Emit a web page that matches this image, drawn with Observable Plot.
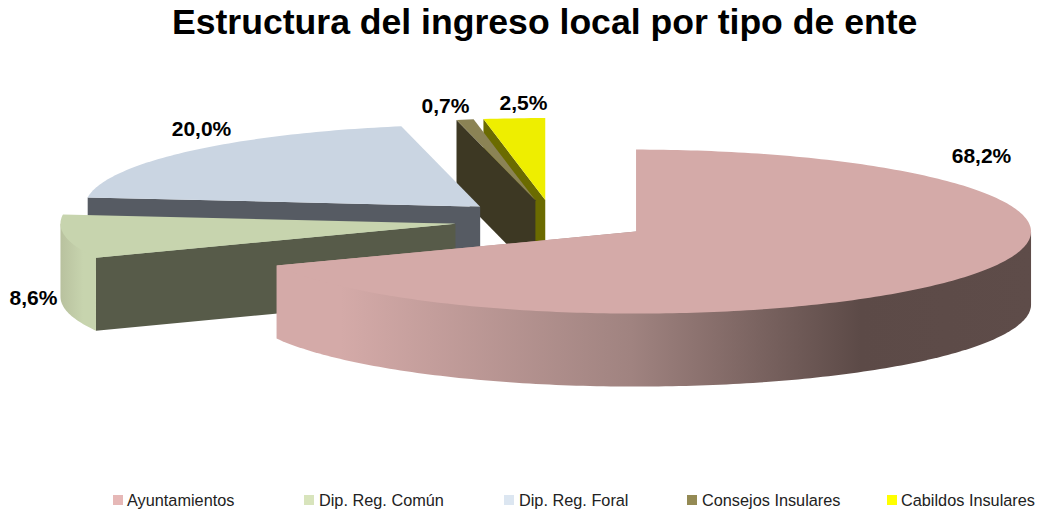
<!DOCTYPE html>
<html>
<head>
<meta charset="utf-8">
<script src="https://cdn.jsdelivr.net/npm/d3@7"></script>
<script src="https://cdn.jsdelivr.net/npm/@observablehq/plot@0.6"></script>
<style>
  html, body { margin: 0; padding: 0; background: #fff; }
  body { width: 1040px; height: 511px; position: relative; overflow: hidden; font-family: "Liberation Sans", Arial, sans-serif; }
  #title { position: absolute; left: 172px; top: 0; margin: 0; height: 60px; line-height: 44px; white-space: nowrap; font-size: 35.6px; font-weight: 700; color: #000; }
  #chart { position: absolute; left: 0; top: 60px; }
  #legend { position: absolute; left: 0; top: 485px; width: 1040px; height: 26px; font-size: 16.3px; color: #222; }
  #legend span.sw { position: absolute; top: 10px; width: 10px; height: 10px; }
  #legend span.lb { position: absolute; top: 5px; line-height: 20px; white-space: nowrap; }
</style>
</head>
<body>
<h1 id="title">Estructura del ingreso local por tipo de ente</h1>
<div id="chart"></div>
<div id="legend"></div>
<script>
// Data
const categories = ["Ayuntamientos", "Dip. Reg. Común", "Dip. Reg. Foral", "Consejos Insulares", "Cabildos Insulares"];
const shares = [68.2, 8.6, 20.0, 0.7, 2.5];

// Styles
const topColors = ["#d4aaa8", "#c7d4ae", "#cad5e2", "#8b8355", "#eeee00"];
const wallColors = ["#5c4a47", "#575b49", "#565b63", "#3d3823", "#6b6b00"];
const legendColors = ["#e6b8b7", "#d8e4bc", "#dce6f1", "#948a54", "#ffff00"];
const legendSwatchX = [113, 304, 504, 687, 887];
const legendTextX = [127, 319, 519, 702, 901];
const labelX = [981, 33, 201, 445, 523];
const labelY = [156, 298, 129, 106, 103];

// Pie geometry (3D projection of an exploded pie)
const cx = 552.5, cy = 220, rx = 395, ry = 82, depth = 73, explode = 0.25;
const total = d3.sum(shares);
const rad = (deg) => (deg * Math.PI) / 180;
let running = 0;
const slices = shares.map((v, i) => {
  const start = (running / total) * 360;
  running += v;
  const end = (running / total) * 360;
  const mid = rad((start + end) / 2);
  return {i, start, end, ax: cx + explode * rx * Math.sin(mid), ay: cy - explode * ry * Math.cos(mid)};
});
const rimPoint = (s, deg, drop = 0) => ({
  x: s.ax + rx * Math.sin(rad(deg)),
  y: s.ay - ry * Math.cos(rad(deg)) + drop
});
const arc = (s, a0, a1, drop = 0) => {
  const n = Math.max(2, Math.ceil(Math.abs(a1 - a0)));
  return d3.range(n + 1).map((k) => rimPoint(s, a0 + ((a1 - a0) * k) / n, drop));
};

const marks = [];
// gradients for the curved outer walls
marks.push(() => {
  const defs = d3.create("svg:defs");
  const add = (id, x1, x2, stops) => {
    const g = defs.append("linearGradient").attr("id", id)
      .attr("gradientUnits", "userSpaceOnUse")
      .attr("x1", x1).attr("x2", x2).attr("y1", 0).attr("y2", 0);
    stops.forEach(([o, c]) => g.append("stop").attr("offset", o).attr("stop-color", c));
  };
  add("rim0", 276, 1030, [[0, "#d4aaa8"], [0.085, "#d4aaa8"], [0.47, "#a08380"], [0.775, "#5c4a47"], [1, "#5e4c49"]]);
  add("rim1", 61, 97, [[0, "#b9c29f"], [0.6, "#c7d4ae"], [1, "#c7d4ae"]]);
  return defs.node();
});
const rimFill = ["url(#rim0)", "url(#rim1)", wallColors[2], wallColors[3], wallColors[4]];

const polygon = (pts, fill) => Plot.line(pts, {x: "x", y: "y", fill, stroke: "none", curve: "linear-closed"});

// back to front: last slices first
[...slices].reverse().forEach((s) => {
  const apex = {x: s.ax, y: s.ay};
  // straight cut wall at the slice start
  if (s.start > 180) {
    marks.push(polygon([rimPoint(s, s.start), apex, {x: s.ax, y: s.ay + depth}, rimPoint(s, s.start, depth)], wallColors[s.i]));
  }
  // curved outer wall, where it faces the viewer; it runs under the top face so no seam shows
  const lo = Math.max(s.start, 90), hi = Math.min(s.end, 270);
  if (hi > lo) {
    marks.push(polygon([rimPoint(s, hi), ...arc(s, hi, lo, depth), rimPoint(s, lo), apex], rimFill[s.i]));
  }
  // top face
  marks.push(polygon([apex, ...arc(s, s.start, s.end)], topColors[s.i]));
});

// value labels
const fmt = (v) => v.toFixed(1).replace(".", ",") + "%";
marks.push(Plot.text(shares.map((v, i) => ({label: fmt(v), x: labelX[i], y: labelY[i]})), {
  x: "x", y: "y", text: "label",
  fontSize: 21, fontWeight: 700, fill: "#000", fontFamily: "Liberation Sans, Arial, sans-serif"
}));

const chart = Plot.plot({
  width: 1040, height: 425,
  margin: 0,
  x: {type: "linear", domain: [0, 1040], range: [0, 1040], axis: null},
  y: {type: "linear", domain: [60, 485], range: [0, 425], axis: null},
  style: {background: "transparent"},
  marks
});
document.getElementById("chart").append(chart);

// legend
const legend = document.getElementById("legend");
categories.forEach((c, i) => {
  const sw = document.createElement("span");
  sw.className = "sw"; sw.style.left = legendSwatchX[i] + "px"; sw.style.background = legendColors[i];
  const lb = document.createElement("span");
  lb.className = "lb"; lb.style.left = legendTextX[i] + "px"; lb.textContent = c;
  legend.append(sw, lb);
});
</script>
</body>
</html>
